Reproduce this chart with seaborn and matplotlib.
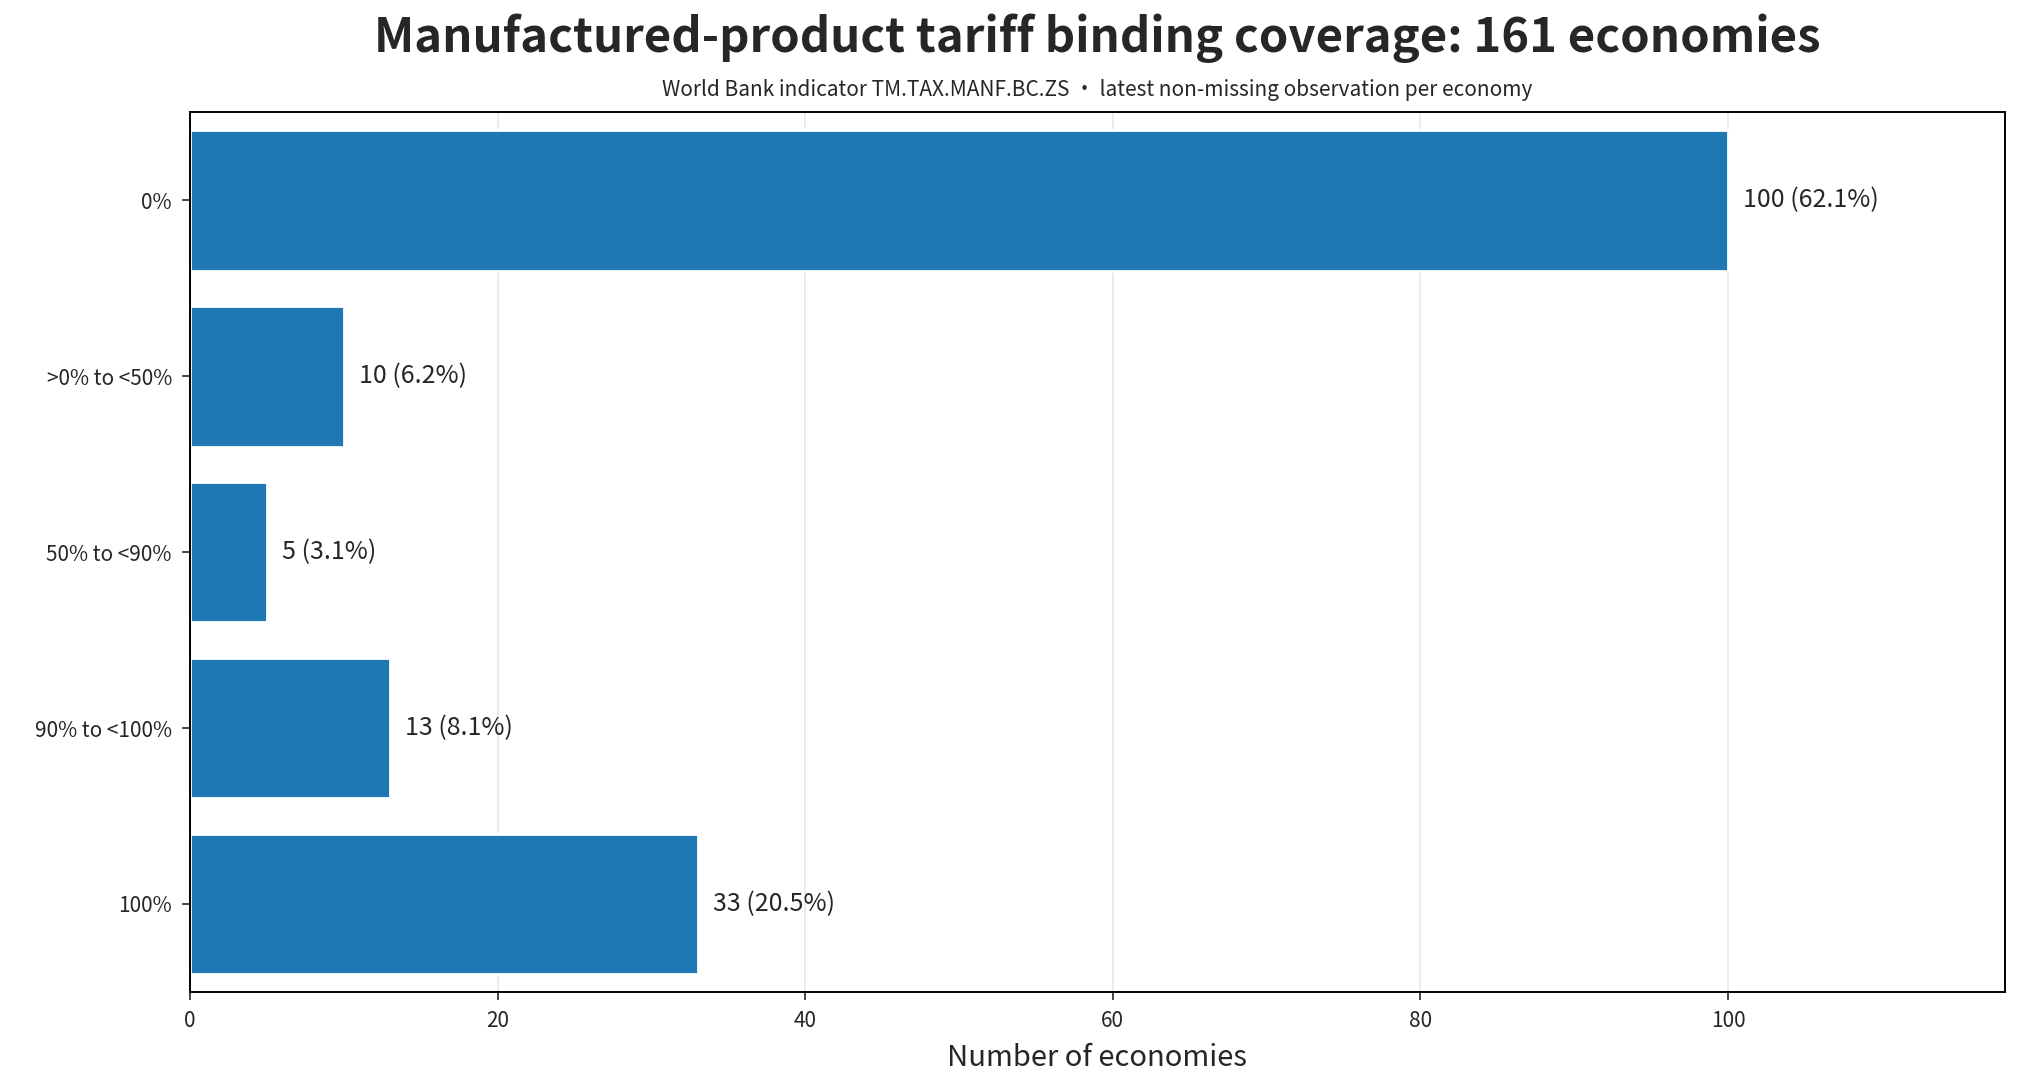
import matplotlib
matplotlib.use("Agg")
import matplotlib.pyplot as plt
import seaborn as sns
import pandas as pd

categories = ["0%", ">0% to <50%", "50% to <90%", "90% to <100%", "100%"]
counts = [100, 10, 5, 13, 33]
labels = ["100 (62.1%)", "10 (6.2%)", "5 (3.1%)", "13 (8.1%)", "33 (20.5%)"]

sns.set_style("white")
plt.rcParams['font.family'] = ['Noto Sans CJK SC', 'DejaVu Sans']

df = pd.DataFrame({"cat": categories, "n": counts})
fig = plt.figure(figsize=(10.105, 5.45), dpi=200)
ax = fig.add_axes([0.094, 0.09, 0.898, 0.807])
sns.barplot(data=df, x="n", y="cat", orient="h", color="#1f77b4", saturation=1, width=0.8, ax=ax)
for i, (v, t) in enumerate(zip(counts, labels)):
    ax.text(v + 1.0, i, t, va="center", ha="left", fontsize=9)
ax.set_xlim(0, 118)
ax.set_xticks([0, 20, 40, 60, 80, 100])
ax.grid(axis="x", color="#e8e8e8", linewidth=0.6)
ax.set_axisbelow(True)
for s in ax.spines.values():
    s.set_visible(True); s.set_color("black"); s.set_linewidth(0.7)
ax.tick_params(axis="both", labelsize=7.5, length=3, width=0.6, left=True, bottom=True)
ax.set_ylabel("")
ax.set_xlabel("Number of economies", fontsize=10.5)
fig.text(0.543, 0.965, "Manufactured-product tariff binding coverage: 161 economies",
         ha="center", va="center", fontsize=17, fontweight="bold")
fig.text(0.543, 0.917, "World Bank indicator TM.TAX.MANF.BC.ZS · latest non-missing observation per economy",
         ha="center", va="center", fontsize=7.5)
fig.savefig("out.png", dpi=200)
